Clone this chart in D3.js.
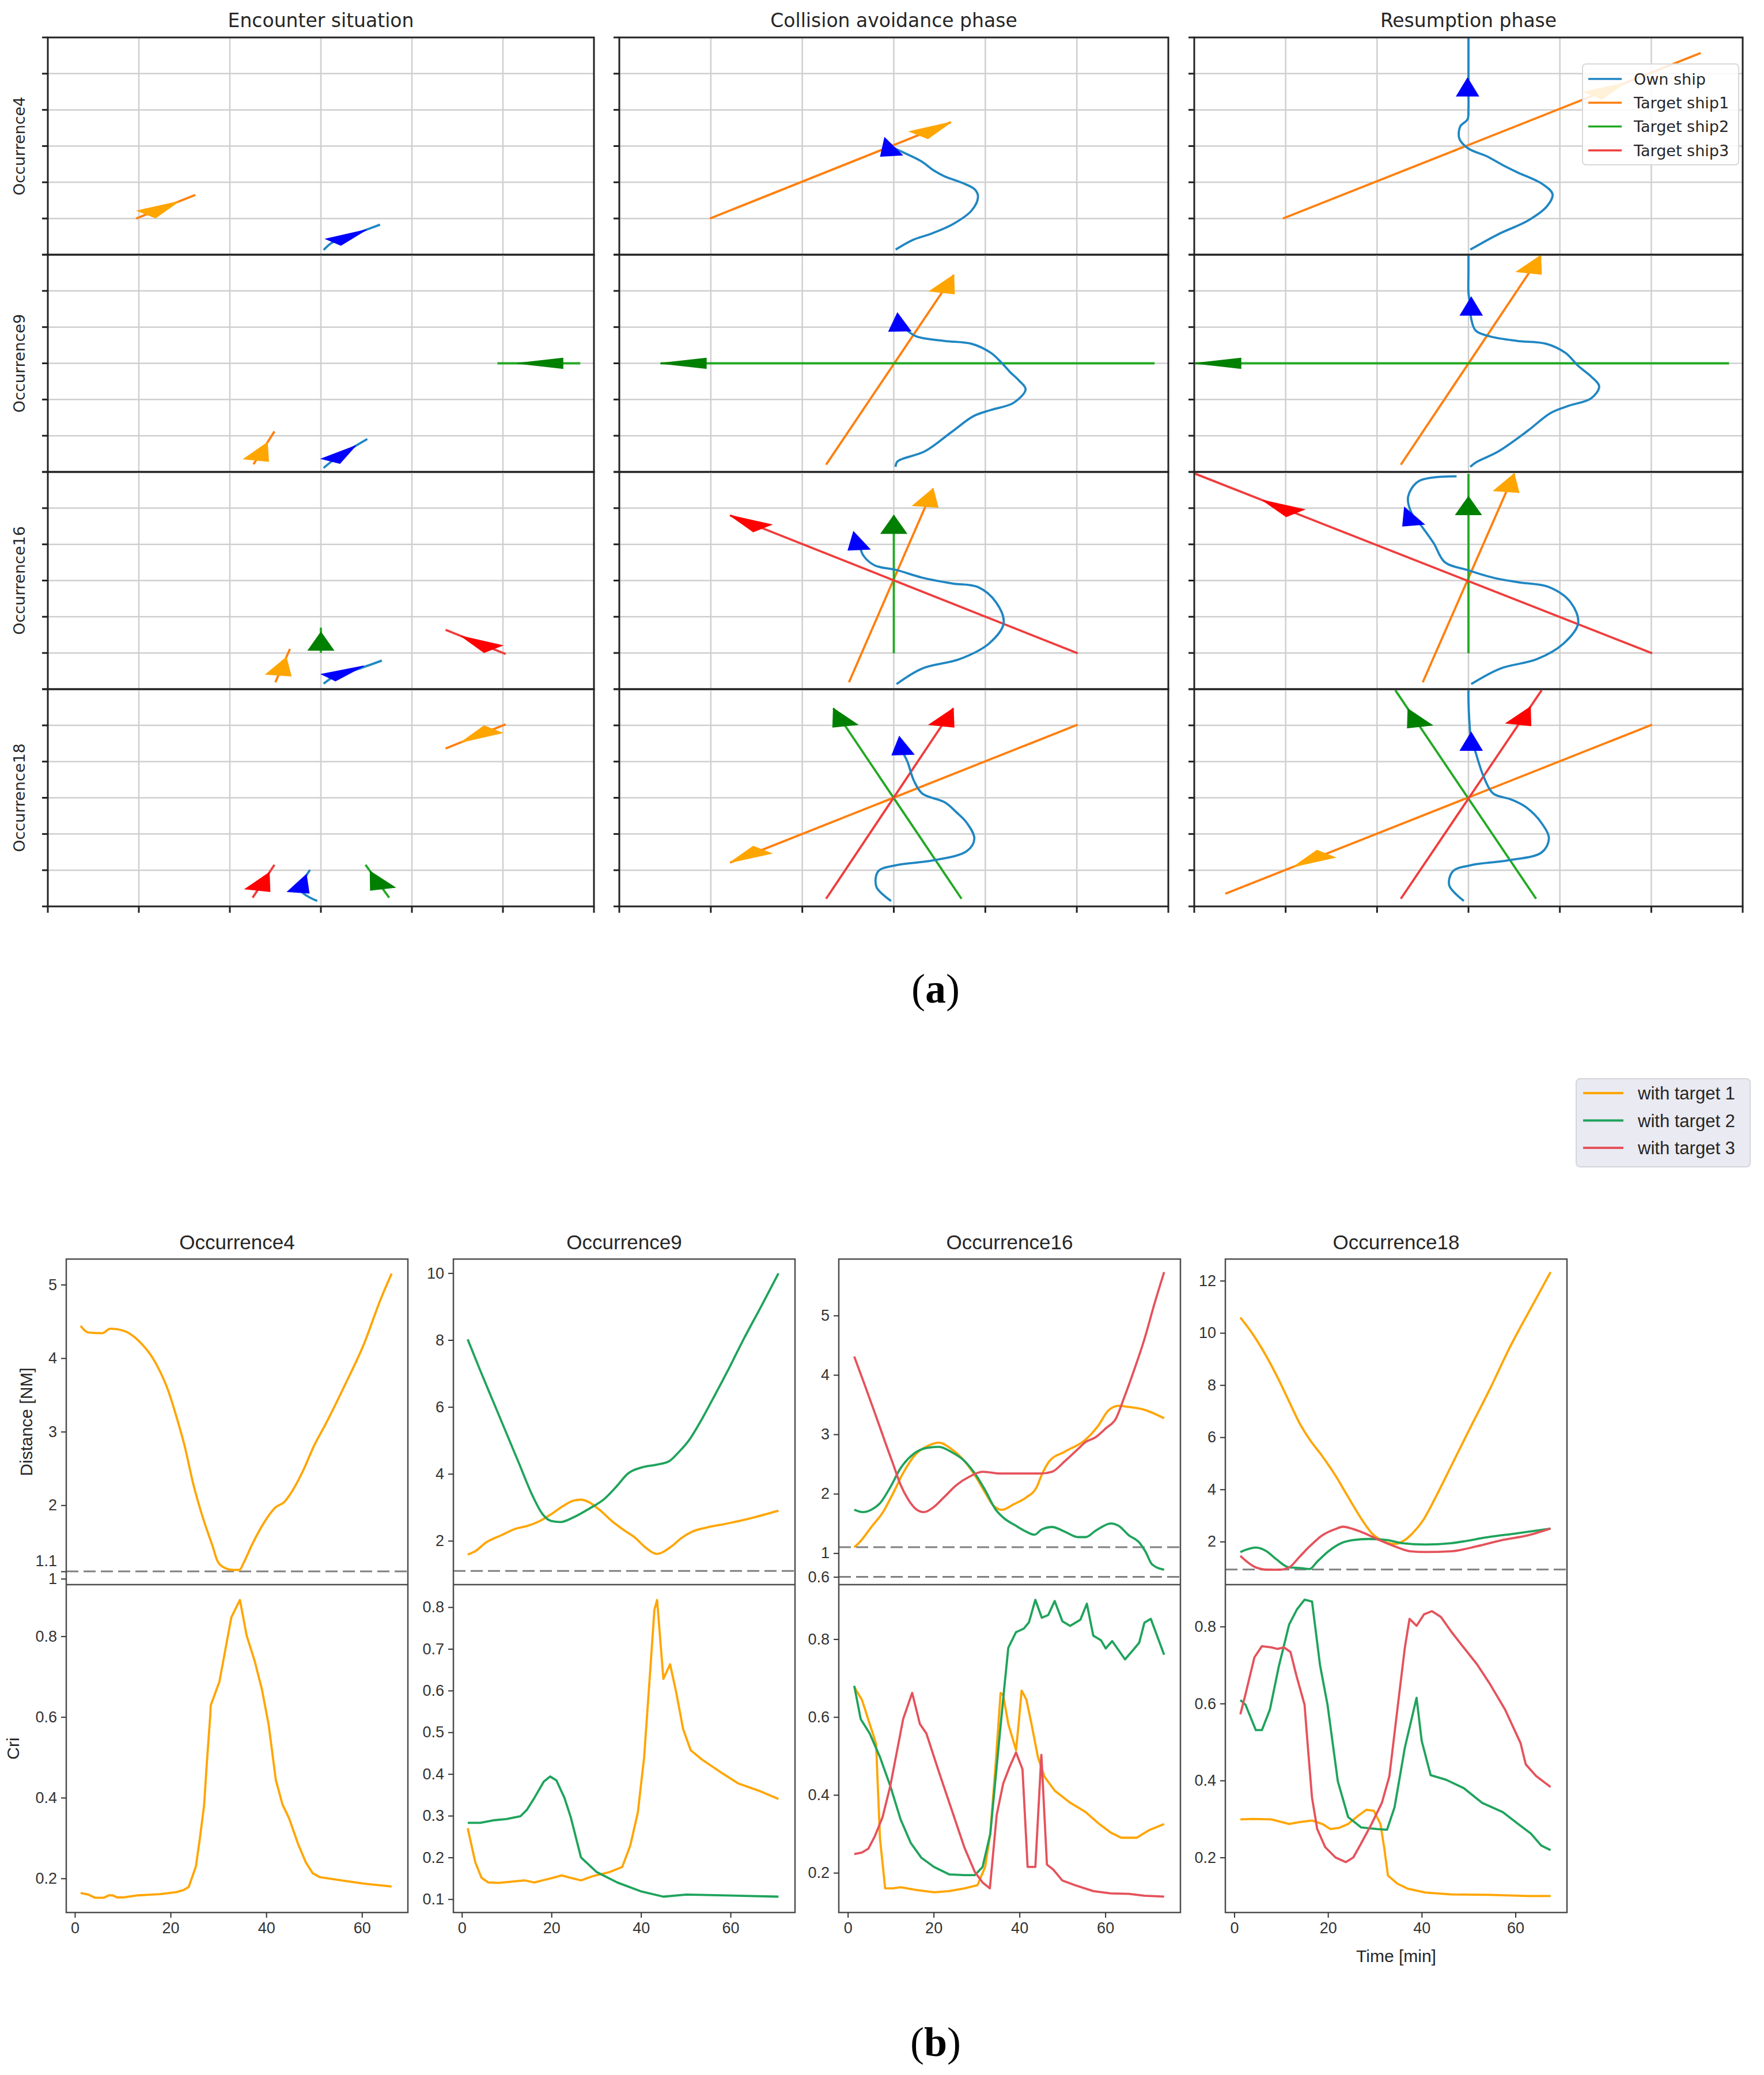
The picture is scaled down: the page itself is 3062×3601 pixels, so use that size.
<!DOCTYPE html>
<html><head><meta charset="utf-8">
<script src="https://cdn.jsdelivr.net/npm/d3@7"></script>
<style>body{margin:0;background:#fff}</style>
</head><body>
<script>
// ================= DATA =================
const phaseTitles = ["Encounter situation", "Collision avoidance phase", "Resumption phase"];
const occurrenceNames = ["Occurrence4", "Occurrence9", "Occurrence16", "Occurrence18"];
const shipNames = ["Own ship", "Target ship1", "Target ship2", "Target ship3"];
const gridTicks = [-3, -2, -1, 0, 1, 2, 3];

// target tracks: [occurrence, phase, ship, x0, y0, x1, y1, arrowhead position along track]
const targetTracks = [
  [0,0,1,-2.03,-2.0,-1.38,-1.35,0.72],
  [1,0,1,-0.74,-2.79,-0.51,-1.88,0.66],
  [1,0,2,2.85,0.0,1.94,0.0,0.76],
  [2,0,1,-0.50,-2.81,-0.34,-1.89,0.75],
  [2,0,2,0.0,-2.0,0.0,-1.3,0.82],
  [2,0,3,2.03,-2.03,1.37,-1.36,0.74],
  [3,0,1,2.03,2.03,1.37,1.36,0.74],
  [3,0,2,0.75,-2.76,0.49,-1.85,0.80],
  [3,0,3,-0.75,-2.76,-0.51,-1.85,0.76],
  [0,1,1,-2.01,-2.0,0.625,0.66,1],
  [1,1,1,-0.74,-2.8,0.655,2.44,1],
  [1,1,2,2.85,0.0,-2.55,0.0,1],
  [2,1,1,-0.49,-2.81,0.43,2.54,1],
  [2,1,2,0.0,-2.01,0.0,1.80,1],
  [2,1,3,2.01,-2.01,-1.79,1.80,1],
  [3,1,1,2.01,2.02,-1.79,-1.79,1],
  [3,1,2,0.74,-2.79,-0.66,2.47,1],
  [3,1,3,-0.74,-2.79,0.65,2.47,1],
  [0,2,1,-2.03,-2.0,2.54,2.57,0.82],
  [1,2,1,-0.74,-2.8,0.79,2.98,1],
  [1,2,2,2.85,0.0,-2.99,0.0,1],
  [2,2,1,-0.50,-2.81,0.50,2.95,1],
  [2,2,2,0.0,-2.01,0.0,2.95,0.873],
  [2,2,3,2.01,-2.01,-2.99,2.95,0.852],
  [3,2,1,2.01,2.02,-2.66,-2.65,0.84],
  [3,2,2,0.74,-2.79,-0.80,2.97,0.91],
  [3,2,3,-0.74,-2.79,0.80,2.97,0.92]
];

// own ship trajectories (NM)
const own4Enc = [[0.03,-2.87],[0.12,-2.67],[0.30,-2.50],[0.65,-2.17]];
const own9Enc = [[0.03,-2.89],[0.16,-2.63],[0.51,-2.09]];
const own16Enc = [[0.03,-2.85],[0.16,-2.63],[0.40,-2.45],[0.67,-2.21]];
const own18Enc = [[-0.04,-2.85],[-0.22,-2.55],[-0.12,-1.99]];
const own4Avoid = [[0.02,-2.86],[0.21,-2.59],[0.42,-2.41],[0.65,-2.15],[0.85,-1.78],[0.92,-1.41],[0.89,-1.21],[0.78,-1.05],[0.55,-0.83],[0.44,-0.68],[0.30,-0.42],[0.09,-0.16],[-0.02,-0.03]];
const own9Avoid = [[0.02,-2.86],[0.04,-2.71],[0.34,-2.43],[0.63,-1.90],[0.87,-1.46],[1.06,-1.29],[1.31,-1.09],[1.44,-0.72],[1.37,-0.48],[1.27,-0.24],[1.18,0.01],[1.06,0.29],[0.85,0.54],[0.55,0.62],[0.25,0.74],[0.15,0.90],[0.09,1.06]];
const own16Avoid = [[0.03,-2.86],[0.31,-2.43],[0.72,-2.17],[1.04,-1.74],[1.20,-1.18],[1.12,-0.61],[0.92,-0.18],[0.64,-0.08],[0.31,0.08],[0.03,0.29],[-0.21,0.42],[-0.33,0.68],[-0.37,0.94]];
const own18Avoid = [[-0.03,-2.85],[-0.19,-2.46],[-0.17,-2.03],[0.03,-1.86],[0.43,-1.73],[0.80,-1.47],[0.88,-1.13],[0.80,-0.70],[0.68,-0.39],[0.56,-0.13],[0.31,0.12],[0.22,0.47],[0.15,0.99],[0.11,1.20]];
const own4Resume = [[0.02,-2.86],[0.33,-2.43],[0.65,-2.06],[0.86,-1.66],[0.92,-1.33],[0.81,-1.05],[0.53,-0.72],[0.37,-0.52],[0.20,-0.28],[0.0,-0.07],[-0.10,0.21],[-0.09,0.54],[-0.01,0.74],[0.0,1.02],[0.0,1.5],[0.0,2.2],[0.0,3.0]];
const own9Resume = [[0.02,-2.86],[0.08,-2.74],[0.33,-2.43],[0.65,-1.86],[0.90,-1.37],[1.10,-1.17],[1.34,-0.97],[1.43,-0.64],[1.34,-0.36],[1.20,-0.07],[1.06,0.29],[0.85,0.54],[0.53,0.62],[0.24,0.74],[0.08,0.90],[0.03,1.23],[0.02,1.6],[0.0,1.96],[0.0,2.5],[0.0,3.0]];
const own16Resume = [[0.03,-2.86],[0.35,-2.43],[0.75,-2.17],[1.04,-1.74],[1.20,-1.18],[1.12,-0.61],[0.88,-0.18],[0.55,-0.05],[0.27,0.08],[-0.01,0.29],[-0.26,0.51],[-0.38,1.03],[-0.50,1.46],[-0.62,1.85],[-0.66,2.32],[-0.54,2.75],[-0.13,2.88]];
const own18Resume = [[-0.05,-2.85],[-0.21,-2.42],[-0.17,-2.03],[0.03,-1.86],[0.43,-1.73],[0.80,-1.51],[0.88,-1.13],[0.80,-0.70],[0.63,-0.26],[0.47,-0.05],[0.27,0.12],[0.17,0.56],[0.11,0.99],[0.08,1.24],[0.03,1.6],[0.01,2.11],[0.0,2.71],[0.0,2.97]];
const ownTracks = [
  [own4Enc, own4Avoid, own4Resume],
  [own9Enc, own9Avoid, own9Resume],
  [own16Enc, own16Avoid, own16Resume],
  [own18Enc, own18Avoid, own18Resume]
];
// own ship heading arrows: [occurrence, phase, tipX, tipY, dirX, dirY]
const ownArrows = [
  [0,0,0.50,-2.31,1.0,0.95],
  [1,0,0.38,-2.28,0.35,0.54],
  [2,0,0.47,-2.36,0.51,0.42],
  [3,0,-0.16,-2.12,0.1,0.56],
  [0,1,-0.10,0.23,-0.15,1],
  [1,1,0.04,1.39,-0.05,1],
  [2,1,-0.44,1.35,-0.12,1],
  [3,1,0.06,1.69,-0.08,1],
  [0,2,-0.01,1.88,0,1],
  [1,2,0.03,1.83,0,1],
  [2,2,-0.70,2.02,-0.2,1],
  [3,2,0.03,1.81,0,1]
];

// ---- (b) distance and CRI time series: [time min, value]
const occTitles = ["Occurrence4", "Occurrence9", "Occurrence16", "Occurrence18"];
const targetNames = ["with target 1", "with target 2", "with target 3"];
const timeTicks = [0, 20, 40, 60];
const timeLimits = [[-1.8,69.6],[-1.9,74.4],[-2.1,77.5],[-1.9,71]];
const distLimits = [[0.92,5.348],[0.69,10.42],[0.47,5.95],[0.35,12.83]];
const criLimits = [[0.1155,0.928],[0.068,0.854],[0.098,0.94],[0.057,0.909]];
const distTicks = [[1,1.1,2,3,4,5],[2,4,6,8,10],[0.6,1,2,3,4,5],[2,4,6,8,10,12]];
const criTicks = [[0.2,0.4,0.6,0.8],[0.1,0.2,0.3,0.4,0.5,0.6,0.7,0.8],[0.2,0.4,0.6,0.8],[0.2,0.4,0.6,0.8]];
const safeDistances = [[1.1],[1.1],[1.1,0.6],[0.93]];

const distOcc4T1 = [[1.2,4.44],[2.8,4.35],[5.7,4.34],[7.4,4.40],[10.3,4.37],[12.0,4.31],[14.3,4.17],[16.0,4.03],[17.8,3.82],[19.5,3.56],[21.2,3.21],[23.0,2.79],[24.7,2.30],[27.0,1.78],[28.7,1.46],[29.9,1.23],[31.6,1.14],[33.0,1.12],[34.4,1.12],[35.3,1.22],[37.0,1.46],[40.2,1.83],[41.9,1.97],[43.7,2.04],[45.4,2.19],[47.7,2.47],[50.0,2.81],[52.3,3.09],[56.4,3.63],[60.4,4.19],[63.9,4.80],[66.2,5.15]];
const criOcc4T1 = [[1.2,0.164],[2.8,0.160],[4.2,0.152],[6.0,0.152],[7.1,0.158],[7.9,0.158],[8.8,0.153],[10.3,0.153],[13.2,0.158],[17.8,0.161],[21.2,0.166],[22.7,0.171],[23.8,0.179],[25.3,0.230],[26.1,0.297],[27.0,0.380],[27.6,0.489],[28.3,0.604],[28.4,0.629],[30.2,0.687],[31.3,0.757],[32.7,0.847],[34.5,0.890],[35.9,0.802],[37.6,0.738],[39.1,0.668],[40.5,0.581],[42.0,0.444],[43.4,0.383],[44.8,0.348],[46.6,0.287],[48.3,0.239],[49.7,0.213],[51.2,0.203],[56.4,0.194],[60.4,0.187],[66.2,0.180]];

const distOcc9T1 = [[1.3,1.59],[3.0,1.69],[5.3,1.94],[8.7,2.16],[12.2,2.37],[14.5,2.44],[17.4,2.59],[20.0,2.80],[22.6,3.04],[24.9,3.20],[26.6,3.23],[28.3,3.16],[30.6,2.94],[33.5,2.59],[36.4,2.30],[38.7,2.09],[41.0,1.80],[43.5,1.61],[46.8,1.83],[49.1,2.09],[51.4,2.27],[54.8,2.40],[59.4,2.52],[64.1,2.66],[70.7,2.90]];
const distOcc9T2 = [[1.3,8.02],[4.1,7.09],[7.0,6.16],[9.9,5.23],[12.8,4.30],[15.7,3.37],[18.0,2.80],[20.0,2.59],[22.0,2.56],[24.9,2.70],[28.3,2.95],[31.8,3.25],[34.7,3.65],[37.0,4.00],[40.4,4.20],[43.3,4.27],[46.2,4.37],[48.5,4.66],[50.8,5.02],[53.1,5.52],[56.0,6.23],[59.4,7.09],[62.9,8.02],[66.9,9.02],[70.7,9.99]];
const criOcc9T1 = [[1.3,0.270],[3.0,0.188],[4.4,0.151],[5.9,0.140],[8.2,0.139],[12.2,0.143],[14.0,0.145],[16.2,0.140],[18.0,0.145],[20.3,0.151],[22.3,0.157],[24.3,0.151],[26.6,0.145],[29.5,0.156],[33.0,0.165],[35.8,0.177],[37.6,0.228],[39.3,0.308],[40.7,0.440],[41.9,0.623],[43.0,0.794],[43.6,0.817],[45.0,0.628],[46.5,0.663],[47.9,0.594],[49.4,0.508],[51.1,0.457],[53.7,0.434],[57.7,0.405],[61.8,0.377],[66.3,0.360],[70.7,0.340]];
const criOcc9T2 = [[1.3,0.283],[4.1,0.283],[7.0,0.289],[9.9,0.292],[13.1,0.299],[14.5,0.314],[16.2,0.343],[18.3,0.382],[19.7,0.394],[21.1,0.385],[22.9,0.343],[24.3,0.297],[26.6,0.200],[30.1,0.165],[34.7,0.140],[39.9,0.119],[45.0,0.106],[50.2,0.111],[63.0,0.108],[70.7,0.106]];

const distOcc16T1 = [[1.5,1.10],[2.7,1.18],[5.7,1.46],[8.1,1.68],[10.5,2.00],[12.9,2.35],[15.9,2.67],[18.8,2.81],[21.2,2.86],[24.2,2.75],[27.2,2.55],[29.6,2.31],[32.0,2.02],[33.8,1.81],[35.9,1.73],[38.6,1.82],[41.6,1.94],[44.0,2.11],[45.2,2.32],[47.0,2.55],[50.6,2.71],[55.4,2.91],[58.4,3.15],[60.7,3.40],[63.1,3.48],[65.5,3.46],[68.8,3.42],[73.7,3.27]];
const distOcc16T2 = [[1.5,1.73],[3.5,1.69],[5.7,1.74],[7.5,1.84],[9.9,2.11],[12.3,2.43],[15.3,2.67],[18.3,2.77],[21.2,2.79],[24.2,2.70],[27.2,2.55],[29.6,2.34],[32.0,2.06],[34.4,1.74],[36.2,1.60],[39.2,1.46],[41.6,1.36],[43.5,1.31],[45.2,1.40],[47.6,1.44],[50.6,1.36],[53.6,1.27],[55.4,1.27],[57.8,1.38],[61.3,1.50],[63.1,1.46],[65.5,1.30],[67.9,1.18],[69.4,1.02],[70.9,0.81],[73.7,0.72]];
const distOcc16T3 = [[1.5,4.31],[3.9,3.84],[6.3,3.36],[8.7,2.87],[10.5,2.51],[12.3,2.15],[14.1,1.90],[15.9,1.74],[17.7,1.69],[20.1,1.78],[22.4,1.94],[25.4,2.15],[28.4,2.29],[31.4,2.37],[35.6,2.34],[40.3,2.34],[44.9,2.34],[47.6,2.37],[50.6,2.55],[53.6,2.75],[55.4,2.87],[57.7,2.95],[60.1,3.10],[62.5,3.27],[64.3,3.60],[66.7,4.08],[69.1,4.60],[71.5,5.21],[73.7,5.73]];
const criOcc16T1 = [[1.5,0.677],[3.3,0.644],[5.1,0.582],[6.0,0.552],[6.6,0.530],[6.9,0.447],[7.5,0.288],[8.7,0.160],[10.5,0.160],[12.3,0.163],[15.9,0.156],[20.1,0.150],[23.6,0.153],[27.2,0.160],[30.2,0.168],[32.0,0.215],[33.2,0.300],[34.4,0.472],[35.6,0.662],[36.2,0.656],[37.4,0.582],[39.2,0.515],[39.8,0.582],[40.5,0.668],[41.6,0.645],[42.8,0.582],[44.3,0.497],[45.8,0.447],[48.2,0.411],[51.8,0.380],[55.4,0.356],[58.4,0.327],[61.3,0.303],[63.7,0.290],[67.3,0.290],[70.3,0.310],[73.7,0.325]];
const criOcc16T2 = [[1.5,0.680],[3.0,0.595],[5.1,0.558],[7.5,0.497],[9.9,0.423],[12.3,0.337],[14.7,0.276],[17.1,0.239],[20.1,0.215],[23.6,0.196],[27.2,0.194],[29.6,0.194],[31.4,0.215],[33.2,0.300],[35.0,0.509],[36.5,0.680],[37.4,0.778],[39.2,0.818],[41.0,0.827],[42.2,0.843],[43.7,0.901],[45.2,0.855],[46.7,0.862],[48.2,0.898],[50.0,0.846],[51.8,0.834],[54.2,0.850],[55.7,0.891],[57.2,0.809],[59.0,0.797],[60.1,0.776],[61.6,0.795],[64.6,0.748],[66.7,0.775],[67.9,0.791],[69.1,0.842],[70.6,0.852],[73.7,0.760]];
const criOcc16T3 = [[1.5,0.248],[3.3,0.252],[4.8,0.262],[6.3,0.294],[8.1,0.343],[9.9,0.423],[11.4,0.509],[12.9,0.595],[15.0,0.662],[16.8,0.582],[18.3,0.558],[21.2,0.460],[24.2,0.362],[27.2,0.264],[29.6,0.202],[31.4,0.175],[33.1,0.160],[34.7,0.349],[36.2,0.429],[37.7,0.472],[39.2,0.509],[40.7,0.466],[41.9,0.215],[43.7,0.215],[45.1,0.503],[46.4,0.221],[47.9,0.208],[50.0,0.180],[53.0,0.168],[57.2,0.153],[61.3,0.147],[65.5,0.146],[69.1,0.141],[73.7,0.139]];

const distOcc18T1 = [[1.3,10.59],[4.0,9.94],[6.8,9.12],[9.5,8.20],[11.7,7.37],[13.9,6.55],[16.1,5.91],[18.8,5.27],[21.6,4.53],[24.3,3.71],[27.1,2.88],[29.3,2.33],[32.0,2.00],[34.2,1.91],[36.4,2.06],[38.1,2.33],[40.2,2.79],[43.0,3.71],[46.3,4.90],[50.1,6.27],[54.5,7.83],[58.9,9.48],[63.3,10.95],[67.5,12.33]];
const distOcc18T2 = [[1.3,1.60],[4.6,1.77],[6.8,1.64],[9.0,1.32],[11.7,1.01],[13.9,0.99],[16.1,0.95],[17.7,1.23],[19.9,1.60],[22.7,1.93],[25.4,2.06],[28.7,2.10],[32.6,2.06],[35.9,1.94],[40.8,1.89],[46.3,1.94],[54.5,2.18],[60.0,2.31],[67.5,2.50]];
const distOcc18T3 = [[1.3,1.45],[4.6,1.01],[7.3,0.92],[9.5,0.92],[11.7,1.01],[13.9,1.41],[16.1,1.82],[18.8,2.24],[21.6,2.48],[23.2,2.57],[25.4,2.48],[28.2,2.29],[30.9,2.06],[34.2,1.82],[37.5,1.63],[40.8,1.60],[46.3,1.63],[51.8,1.82],[57.2,2.06],[62.7,2.24],[67.5,2.50]];
const criOcc18T1 = [[1.3,0.299],[4.0,0.300],[7.9,0.299],[11.7,0.287],[13.9,0.292],[16.6,0.296],[18.8,0.287],[20.5,0.274],[22.4,0.277],[24.3,0.287],[26.5,0.309],[28.2,0.324],[29.8,0.321],[31.2,0.287],[32.0,0.225],[32.8,0.153],[34.8,0.132],[37.0,0.119],[40.8,0.109],[46.3,0.104],[54.5,0.103],[62.7,0.100],[67.5,0.100]];
const criOcc18T2 = [[1.3,0.609],[2.4,0.597],[4.6,0.531],[5.9,0.531],[7.6,0.584],[9.5,0.696],[11.7,0.805],[13.4,0.845],[15.0,0.870],[16.6,0.865],[18.3,0.700],[19.9,0.597],[22.1,0.398],[24.3,0.305],[27.1,0.278],[30.4,0.274],[32.6,0.272],[34.2,0.330],[36.4,0.485],[38.9,0.615],[40.0,0.503],[41.9,0.414],[45.2,0.402],[49.0,0.380],[52.9,0.342],[57.3,0.318],[60.6,0.287],[63.3,0.262],[65.5,0.231],[67.5,0.219]];
const criOcc18T3 = [[1.3,0.572],[2.4,0.624],[4.3,0.720],[5.9,0.749],[7.9,0.746],[9.2,0.742],[10.6,0.746],[12.0,0.734],[13.3,0.671],[15.0,0.597],[15.8,0.473],[16.6,0.355],[17.7,0.274],[19.4,0.227],[21.6,0.200],[23.8,0.188],[25.4,0.200],[27.1,0.237],[29.3,0.287],[31.5,0.342],[33.1,0.411],[34.8,0.584],[36.4,0.745],[37.4,0.820],[38.9,0.802],[40.5,0.832],[42.2,0.840],[44.1,0.825],[46.3,0.787],[49.0,0.745],[51.8,0.702],[54.5,0.652],[57.8,0.584],[61.1,0.497],[62.2,0.442],[64.4,0.412],[67.5,0.383]];

const distSeries = [
  [distOcc4T1, null, null],
  [distOcc9T1, distOcc9T2, null],
  [distOcc16T1, distOcc16T2, distOcc16T3],
  [distOcc18T1, distOcc18T2, distOcc18T3]
];
const criSeries = [
  [criOcc4T1, null, null],
  [criOcc9T1, criOcc9T2, null],
  [criOcc16T1, criOcc16T2, criOcc16T3],
  [criOcc18T1, criOcc18T2, criOcc18T3]
];

// ================= STYLE =================
const shipLineColors = ["#1f86c2", "#ff7f0e", "#22a922", "#f03c3c"];
const shipHeadColors = ["#0000ff", "#ffa500", "#008000", "#ff0000"];
const targetColors = ["#ffa500", "#1fa35c", "#e5525b"];

const W = 3062, H = 3601;
const svg = d3.select("body").append("svg").attr("width", W).attr("height", H);
svg.append("rect").attr("width", W).attr("height", H).attr("fill", "#fff");
const defs = svg.append("defs");

// ================= (a) trajectories =================
const topCols = [[83, 1031], [1075, 2028], [2073, 3025]];
const rowTop0 = 65, rowH = 377;
const HEAD_L = 0.5, HEAD_W = 0.28, OWN_HEAD_W = 0.24;

function headPath(xs, ys, tip, dir, L, Wd) {
  const n = Math.hypot(dir[0], dir[1]);
  const ux = dir[0] / n, uy = dir[1] / n;
  const bx = tip[0] - L * ux, by = tip[1] - L * uy;
  const px = -uy, py = ux;
  const pts = [[tip[0], tip[1]], [bx + Wd / 2 * px, by + Wd / 2 * py], [bx - Wd / 2 * px, by - Wd / 2 * py]];
  return "M" + pts.map(p => xs(p[0]) + "," + ys(p[1])).join("L") + "Z";
}

const gA = svg.append("g");
phaseTitles.forEach((title, c) => {
  const xs = d3.scaleLinear().domain([-3, 3]).range(topCols[c]);
  gA.append("text").attr("x", (topCols[c][0] + topCols[c][1]) / 2).attr("y", 47)
    .attr("text-anchor", "middle").attr("font-family", "DejaVu Sans").attr("font-size", 33)
    .attr("fill", "#262626").text(title);

  occurrenceNames.forEach((occ, r) => {
    const top = rowTop0 + r * rowH, bot = top + rowH;
    const ys = d3.scaleLinear().domain([-3, 3]).range([bot, top]);
    const g = gA.append("g");
    const cid = "clipA" + c + "_" + r;
    defs.append("clipPath").attr("id", cid).append("rect")
      .attr("x", topCols[c][0]).attr("y", top).attr("width", topCols[c][1] - topCols[c][0]).attr("height", rowH);

    // grid
    g.selectAll(".vg").data(gridTicks.slice(1, -1)).join("line")
      .attr("x1", d => xs(d)).attr("x2", d => xs(d)).attr("y1", top).attr("y2", bot)
      .attr("stroke", "#cfcfcf").attr("stroke-width", 2.5);
    g.selectAll(".hg").data(gridTicks.slice(1, -1)).join("line")
      .attr("y1", d => ys(d)).attr("y2", d => ys(d)).attr("x1", topCols[c][0]).attr("x2", topCols[c][1])
      .attr("stroke", "#cfcfcf").attr("stroke-width", 2.5);

    const pg = g.append("g").attr("clip-path", "url(#" + cid + ")");
    // targets
    targetTracks.filter(t => t[0] === r && t[1] === c).forEach(t => {
      const ship = t[2];
      pg.append("line").attr("x1", xs(t[3])).attr("y1", ys(t[4])).attr("x2", xs(t[5])).attr("y2", ys(t[6]))
        .attr("stroke", shipLineColors[ship]).attr("stroke-width", 3.8);
    });
    // own ship
    const line = d3.line().x(d => xs(d[0])).y(d => ys(d[1])).curve(d3.curveCatmullRom.alpha(0.5));
    pg.append("path").attr("d", line(ownTracks[r][c])).attr("fill", "none")
      .attr("stroke", shipLineColors[0]).attr("stroke-width", 3.8);
    // arrowheads
    targetTracks.filter(t => t[0] === r && t[1] === c).forEach(t => {
      const ship = t[2], f = t[7];
      const tip = [t[3] + f * (t[5] - t[3]), t[4] + f * (t[6] - t[4])];
      pg.append("path").attr("d", headPath(xs, ys, tip, [t[5] - t[3], t[6] - t[4]], HEAD_L, HEAD_W))
        .attr("fill", shipHeadColors[ship]).attr("stroke", shipHeadColors[ship]).attr("stroke-width", 1.5);
    });
    ownArrows.filter(a => a[0] === r && a[1] === c).forEach(a => {
      pg.append("path").attr("d", headPath(xs, ys, [a[2], a[3]], [a[4], a[5]], HEAD_L, OWN_HEAD_W))
        .attr("fill", shipHeadColors[0]).attr("stroke", shipHeadColors[0]).attr("stroke-width", 1.5);
    });

    // frame
    g.append("rect").attr("x", topCols[c][0]).attr("y", top).attr("width", topCols[c][1] - topCols[c][0])
      .attr("height", rowH).attr("fill", "none").attr("stroke", "#222").attr("stroke-width", 3);
    // left ticks
    g.selectAll(".lt").data(gridTicks).join("line")
      .attr("x1", topCols[c][0] - 10).attr("x2", topCols[c][0]).attr("y1", d => ys(d)).attr("y2", d => ys(d))
      .attr("stroke", "#222").attr("stroke-width", 3);
    if (r === occurrenceNames.length - 1) {
      g.selectAll(".bt").data(gridTicks).join("line")
        .attr("x1", d => xs(d)).attr("x2", d => xs(d)).attr("y1", bot).attr("y2", bot + 11)
        .attr("stroke", "#222").attr("stroke-width", 3);
    }
    if (c === 0) {
      g.append("text").attr("transform", `translate(34,${(top + bot) / 2}) rotate(-90)`)
        .attr("text-anchor", "middle").attr("dy", "0.35em").attr("font-family", "DejaVu Sans")
        .attr("font-size", 27).attr("fill", "#262626").text(occ);
    }
  });
});

// legend (a)
const legA = gA.append("g");
legA.append("rect").attr("x", 2747).attr("y", 111).attr("width", 271).attr("height", 175).attr("rx", 6)
  .attr("fill", "#fff").attr("fill-opacity", 0.85).attr("stroke", "#d8d8d8").attr("stroke-width", 2);
shipNames.forEach((nm, i) => {
  const yy = 137 + i * 41.3;
  legA.append("line").attr("x1", 2757).attr("x2", 2815).attr("y1", yy).attr("y2", yy)
    .attr("stroke", shipLineColors[i]).attr("stroke-width", 3.5);
  legA.append("text").attr("x", 2836).attr("y", yy).attr("dy", "0.36em").attr("font-family", "DejaVu Sans")
    .attr("font-size", 27).attr("fill", "#262626").text(nm);
});

// caption (a)
svg.append("text").attr("x", 1624).attr("y", 1740).attr("text-anchor", "middle")
  .attr("font-family", "Liberation Serif").attr("font-size", 72).attr("fill", "#000")
  .html('(<tspan font-weight="bold">a</tspan>)');

// ================= (b) distance / CRI =================
const botCols = [115, 787, 1456, 2127], botW = 593;
const botTop = 2185, botMid = 2750, botBot = 3319;
const fontB = "Liberation Sans";
const gB = svg.append("g");

occTitles.forEach((title, i) => {
  const x0 = botCols[i], x1 = x0 + botW;
  const xs = d3.scaleLinear().domain(timeLimits[i]).range([x0, x1]);
  const yd = d3.scaleLinear().domain(distLimits[i]).range([botMid, botTop]);
  const yc = d3.scaleLinear().domain(criLimits[i]).range([botBot, botMid]);
  const g = gB.append("g");

  const cd = "clipD" + i, cc = "clipC" + i;
  defs.append("clipPath").attr("id", cd).append("rect").attr("x", x0).attr("y", botTop).attr("width", botW).attr("height", botMid - botTop);
  defs.append("clipPath").attr("id", cc).append("rect").attr("x", x0).attr("y", botMid).attr("width", botW).attr("height", botBot - botMid);

  // threshold dashed lines
  g.append("g").attr("clip-path", "url(#" + cd + ")").selectAll("line").data(safeDistances[i]).join("line")
    .attr("x1", x0).attr("x2", x1).attr("y1", d => yd(d)).attr("y2", d => yd(d))
    .attr("stroke", "#808080").attr("stroke-width", 3).attr("stroke-dasharray", "21,9");

  const ld = d3.line().x(d => xs(d[0])).y(d => yd(d[1])).curve(d3.curveMonotoneX);
  const lc = d3.line().x(d => xs(d[0])).y(d => yc(d[1]));
  const gd = g.append("g").attr("clip-path", "url(#" + cd + ")");
  const gc = g.append("g").attr("clip-path", "url(#" + cc + ")");
  distSeries[i].forEach((s, k) => {
    if (!s) return;
    gd.append("path").attr("d", ld(s)).attr("fill", "none").attr("stroke", targetColors[k])
      .attr("stroke-width", 3.8).attr("stroke-linejoin", "round");
  });
  criSeries[i].forEach((s, k) => {
    if (!s) return;
    gc.append("path").attr("d", lc(s)).attr("fill", "none").attr("stroke", targetColors[k])
      .attr("stroke-width", 3.8).attr("stroke-linejoin", "round");
  });

  // frames
  g.append("rect").attr("x", x0).attr("y", botTop).attr("width", botW).attr("height", botBot - botTop)
    .attr("fill", "none").attr("stroke", "#4d4d4d").attr("stroke-width", 2.5);
  g.append("line").attr("x1", x0).attr("x2", x1).attr("y1", botMid).attr("y2", botMid)
    .attr("stroke", "#4d4d4d").attr("stroke-width", 2.5);

  // axes
  const styleAxis = sel => {
    sel.select(".domain").remove();
    sel.selectAll(".tick line").attr("stroke", "#333").attr("stroke-width", 2);
    sel.selectAll(".tick text").attr("font-family", fontB).attr("font-size", 27).attr("fill", "#333");
  };
  const distAxis = g.append("g").attr("transform", `translate(${x0},0)`)
    .call(d3.axisLeft(yd).tickValues(distTicks[i]).tickFormat(d => String(d)).tickSize(9).tickPadding(7))
    .call(styleAxis);
  // the 1.1 label sits just above the crowded "1" label, as in the source figure
  distAxis.selectAll(".tick").filter(d => d === 1.1).select("text").attr("transform", "translate(0,-18)");
  g.append("g").attr("transform", `translate(${x0},0)`)
    .call(d3.axisLeft(yc).tickValues(criTicks[i]).tickFormat(d3.format(".1f")).tickSize(9).tickPadding(7))
    .call(styleAxis);
  g.append("g").attr("transform", `translate(0,${botBot})`)
    .call(d3.axisBottom(xs).tickValues(timeTicks).tickFormat(d => String(d)).tickSize(9).tickPadding(8))
    .call(styleAxis);

  g.append("text").attr("x", (x0 + x1) / 2).attr("y", 2168).attr("text-anchor", "middle")
    .attr("font-family", fontB).attr("font-size", 35).attr("fill", "#262626").text(title);
});

// axis labels (b)
gB.append("text").attr("transform", `translate(45,${(botTop + botMid) / 2}) rotate(-90)`)
  .attr("text-anchor", "middle").attr("dy", "0.35em").attr("font-family", fontB).attr("font-size", 30)
  .attr("fill", "#262626").text("Distance [NM]");
gB.append("text").attr("transform", `translate(22,${(botMid + botBot) / 2}) rotate(-90)`)
  .attr("text-anchor", "middle").attr("dy", "0.35em").attr("font-family", fontB).attr("font-size", 30)
  .attr("fill", "#262626").text("Cri");
gB.append("text").attr("x", botCols[3] + botW / 2).attr("y", 3405).attr("text-anchor", "middle")
  .attr("font-family", fontB).attr("font-size", 30).attr("fill", "#262626").text("Time [min]");

// legend (b)
const legB = gB.append("g");
legB.append("rect").attr("x", 2736).attr("y", 1872).attr("width", 302).attr("height", 153).attr("rx", 7)
  .attr("fill", "#eaeaf2").attr("stroke", "#d4d4dc").attr("stroke-width", 2);
targetNames.forEach((nm, k) => {
  const yy = 1897 + k * 47.5;
  legB.append("line").attr("x1", 2748).attr("x2", 2818).attr("y1", yy).attr("y2", yy)
    .attr("stroke", targetColors[k]).attr("stroke-width", 4);
  legB.append("text").attr("x", 2843).attr("y", yy).attr("dy", "0.36em").attr("font-family", fontB)
    .attr("font-size", 31).attr("fill", "#262626").text(nm);
});

// caption (b)
svg.append("text").attr("x", 1624).attr("y", 3568).attr("text-anchor", "middle")
  .attr("font-family", "Liberation Serif").attr("font-size", 72).attr("fill", "#000")
  .html('(<tspan font-weight="bold">b</tspan>)');
</script>
</body></html>
